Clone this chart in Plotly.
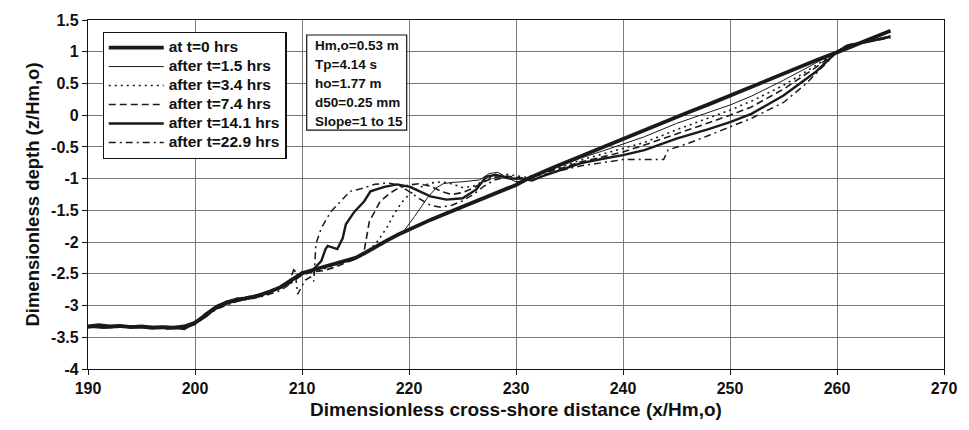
import plotly.graph_objects as go

# ---------------- data ----------------
x_t0 = [190, 191, 192, 193, 194, 195, 196, 197, 198, 199, 200, 200.5, 201, 201.5, 202, 203, 204, 205, 206, 207,
        208, 209, 210, 211, 212, 213, 214, 215, 216, 217, 218, 219, 220, 221, 222, 223, 224, 225, 226, 227,
        228, 229, 230, 231, 232, 233, 234, 236, 238, 240, 242, 244, 246, 248, 250, 252, 254, 256, 258, 260,
        262, 264, 265]
z_t0 = [-3.33, -3.31, -3.33, -3.32, -3.34, -3.33, -3.35, -3.34, -3.35, -3.33, -3.27, -3.22, -3.16, -3.09, -3.03,
        -2.95, -2.91, -2.88, -2.84, -2.78, -2.71, -2.60, -2.49, -2.44, -2.39, -2.34, -2.30, -2.25, -2.16, -2.06,
        -1.97, -1.88, -1.80, -1.72, -1.65, -1.58, -1.51, -1.44, -1.37, -1.30, -1.23, -1.17, -1.10, -1.01, -0.93,
        -0.86, -0.79, -0.65, -0.51, -0.37, -0.24, -0.10, 0.04, 0.17, 0.31, 0.45, 0.58, 0.72, 0.86, 0.99,
        1.13, 1.27, 1.33]

x_t15 = [190, 191.5, 193, 194.5, 196, 197.5, 199, 200, 201, 202, 203, 204, 205, 206, 207, 208, 209, 210, 211, 212,
         213, 214, 215, 216, 217, 218, 219, 219.5, 220.5, 221.7, 222.5, 223.2, 224, 225, 226.6, 227.5, 228.3, 229,
         230, 231, 232, 234, 236, 238, 240, 242, 245, 248, 250, 252, 255, 258, 260, 261, 262, 263, 265]
z_t15 = [-3.34, -3.32, -3.33, -3.35, -3.33, -3.36, -3.34, -3.28, -3.18, -3.02, -2.93, -2.90, -2.86, -2.85, -2.79,
         -2.72, -2.62, -2.50, -2.45, -2.38, -2.35, -2.30, -2.24, -2.17, -2.07, -1.98, -1.88, -1.83, -1.60, -1.31,
         -1.15, -1.08, -1.06, -1.05, -1.02, -0.92, -0.90, -0.97, -1.05, -1.02, -0.94, -0.81, -0.68, -0.57, -0.46,
         -0.34, -0.13, 0.04, 0.16, 0.30, 0.55, 0.82, 1.00, 1.10, 1.14, 1.18, 1.25]

x_t34 = [190, 191.5, 193, 194.5, 196, 197.5, 199, 200, 201, 202, 203, 204, 205, 206, 207, 208, 209, 210, 211, 212,
         213, 214, 215, 216, 217, 217.9, 218.6, 219.3, 220, 221, 222, 223, 224, 225, 226, 227, 228, 229, 230, 231,
         232, 234, 236, 238, 240, 242, 245, 248, 250, 252, 255, 258, 260, 261, 262, 263, 265]
z_t34 = [-3.32, -3.34, -3.31, -3.34, -3.36, -3.33, -3.35, -3.26, -3.15, -3.05, -2.96, -2.88, -2.87, -2.82, -2.77,
         -2.73, -2.58, -2.47, -2.48, -2.42, -2.36, -2.31, -2.26, -2.18, -2.00, -1.78, -1.56, -1.38, -1.25, -1.14,
         -1.07, -1.05, -1.08, -1.14, -1.12, -1.03, -0.95, -0.93, -0.96, -0.98, -0.92, -0.83, -0.71, -0.62, -0.53,
         -0.43, -0.23, -0.05, 0.08, 0.22, 0.47, 0.78, 1.00, 1.11, 1.13, 1.17, 1.24]

x_t74 = [190, 191.5, 193, 194.5, 196, 197.5, 199, 200, 201, 202, 203, 204, 205, 206, 207, 208, 209, 210, 211, 212,
         213, 214, 215, 215.8, 216.1, 216.3, 216.8, 217.3, 218.2, 219, 220, 221, 222, 223, 224, 225, 226, 227, 228,
         229, 230, 231, 232, 234, 236, 238, 240, 242, 245, 248, 250, 252, 255, 258, 260, 261, 262, 263, 265]
z_t74 = [-3.35, -3.33, -3.34, -3.32, -3.35, -3.37, -3.33, -3.29, -3.14, -3.04, -2.97, -2.92, -2.86, -2.86, -2.80,
         -2.72, -2.64, -2.52, -2.47, -2.45, -2.40, -2.33, -2.27, -2.15, -1.88, -1.67, -1.52, -1.36, -1.23, -1.15,
         -1.10, -1.08, -1.12, -1.20, -1.25, -1.22, -1.15, -1.05, -0.98, -0.96, -0.98, -1.00, -0.93, -0.85, -0.74,
         -0.66, -0.58, -0.47, -0.30, -0.12, 0.00, 0.13, 0.41, 0.75, 1.00, 1.10, 1.14, 1.17, 1.23]

x_t141 = [190, 191.5, 193, 194.5, 196, 197.5, 199, 200, 201, 202, 203, 204, 205, 206, 207, 208, 209, 210, 211,
          211.8, 212.2, 212.4, 213.3, 213.8, 214.1, 214.9, 215.8, 216.4, 217.7, 218.9, 220.1, 221, 222, 223.5,
          225, 226.3, 227.2, 228.1, 229.4, 230.6, 231.5, 232.5, 234, 236, 238, 240, 242, 245, 248, 250, 252, 255,
          258, 260, 261, 262, 263, 265]
z_t141 = [-3.33, -3.35, -3.33, -3.33, -3.34, -3.34, -3.37, -3.27, -3.13, -3.01, -2.94, -2.89, -2.89, -2.83, -2.79,
          -2.70, -2.61, -2.50, -2.44, -2.30, -2.11, -2.06, -2.11, -1.94, -1.72, -1.52, -1.36, -1.20, -1.13, -1.09,
          -1.13, -1.20, -1.28, -1.33, -1.31, -1.17, -0.97, -0.94, -1.00, -1.00, -1.03, -0.96, -0.87, -0.76, -0.69,
          -0.63, -0.55, -0.37, -0.22, -0.11, 0.02, 0.31, 0.68, 1.00, 1.10, 1.13, 1.16, 1.24]

x_t229 = [190, 191.5, 193, 194.5, 196, 197.5, 199, 200, 201, 202, 203, 204, 205, 206, 207, 208, 208.7, 209.3,
          209.6, 210.3, 210.8, 211.1, 211.3, 211.8, 212.7, 213.6, 214.5, 215.5, 216.8, 218, 219, 220, 221, 222,
          223, 224, 225, 226, 227, 228, 229, 230, 231, 232, 234, 236, 238, 240, 242, 243.8, 244.2, 246, 248, 250,
          252, 255, 257, 259, 260, 261, 262, 263, 265]
z_t229 = [-3.34, -3.33, -3.35, -3.33, -3.36, -3.35, -3.36, -3.30, -3.17, -3.06, -2.99, -2.93, -2.90, -2.87, -2.82,
          -2.76, -2.68, -2.40, -2.82, -2.60, -2.55, -2.62, -2.03, -1.78, -1.52, -1.36, -1.20, -1.16, -1.09, -1.07,
          -1.10, -1.20, -1.32, -1.42, -1.45, -1.42, -1.35, -1.25, -1.12, -1.02, -0.98, -1.00, -1.02, -0.96, -0.88,
          -0.80, -0.75, -0.70, -0.70, -0.70, -0.55, -0.45, -0.32, -0.19, -0.05, 0.20, 0.48, 0.82, 1.00, 1.10,
          1.12, 1.16, 1.22]

series_names = ["at t=0 hrs", "after t=1.5 hrs", "after t=3.4 hrs", "after t=7.4 hrs",
                "after t=14.1 hrs", "after t=22.9 hrs"]

x_ticks = [190, 200, 210, 220, 230, 240, 250, 260, 270]
y_ticks = [1.5, 1, 0.5, 0, -0.5, -1, -1.5, -2, -2.5, -3, -3.5, -4]
y_tick_text = ["1.5", "1", "0.5", "0", "-0.5", "-1", "-1.5", "-2", "-2.5", "-3", "-3.5", "-4"]

info_lines = ["Hm,o=0.53 m", "Tp=4.14 s", "ho=1.77 m", "d50=0.25 mm", "Slope=1 to 15"]

# ---------------- figure ----------------
FONT = "Liberation Sans, Arial, sans-serif"
xs = [x_t0, x_t15, x_t34, x_t74, x_t141, x_t229]
zs = [z_t0, z_t15, z_t34, z_t74, z_t141, z_t229]
styles = [
    dict(width=3.8, dash="solid", color="#1a1a1a"),
    dict(width=1.0, dash="solid", color="#1a1a1a"),
    dict(width=1.6, dash="2px,4px", color="#1a1a1a"),
    dict(width=1.6, dash="7px,4px", color="#1a1a1a"),
    dict(width=2.4, dash="solid", color="#1a1a1a"),
    dict(width=1.5, dash="7px,4px,2px,4px", color="#1a1a1a"),
]

fig = go.Figure()
for name, xv, zv, st in zip(series_names, xs, zs, styles):
    label = "<span style='font-size:15.5px'><b>" + name + "</b></span>"
    fig.add_trace(go.Scatter(x=xv, y=zv, mode="lines", name=label, line=st))

fig.update_layout(
    width=969, height=430,
    margin=dict(l=88, r=16, t=17, b=61),
    paper_bgcolor="white", plot_bgcolor="white",
    font=dict(family=FONT, color="#111"),
    showlegend=True,
    legend=dict(x=0.017, y=0.966, xanchor="left", yanchor="top",
                bgcolor="white", bordercolor="#111", borderwidth=1.2,
                font=dict(family=FONT, size=12, color="#111"),
                itemwidth=55, tracegroupgap=0),
)
fig.update_xaxes(range=[190, 270], tickvals=x_ticks, ticktext=[str(v) for v in x_ticks],
                 showgrid=True, gridcolor="#7a7a7a", gridwidth=1.2, zeroline=False,
                 showline=True, linecolor="#111", linewidth=1.2, mirror=True,
                 ticks="outside", ticklen=5, tickcolor="#111",
                 tickfont=dict(family=FONT, size=16, weight="bold", color="#111"),
                 title=dict(text="<b>Dimensionless cross-shore distance (x/Hm,o)</b>",
                            font=dict(family=FONT, size=19, color="#111"), standoff=6))
fig.update_yaxes(range=[-4, 1.5], tickvals=y_ticks, ticktext=y_tick_text,
                 showgrid=True, gridcolor="#7a7a7a", gridwidth=1.2, zeroline=False,
                 showline=True, linecolor="#111", linewidth=1.2, mirror=True,
                 ticks="outside", ticklen=5, tickcolor="#111",
                 tickfont=dict(family=FONT, size=16, weight="bold", color="#111"),
                 title=dict(text="<b>Dimensionless depth (z/Hm,o)</b>",
                            font=dict(family=FONT, size=18.5, color="#111"), standoff=6))

# info box
fig.add_shape(type="rect", xref="paper", yref="paper", x0=0.2555, x1=0.3723, y0=0.6847, y1=0.957,
              line=dict(color="#111", width=1.2), fillcolor="white", layer="above")
for i, t in enumerate(info_lines):
    fig.add_annotation(xref="paper", yref="paper", x=0.2625, y=0.926 - i * 0.054,
                       xanchor="left", yanchor="middle", showarrow=False,
                       text="<b>" + t + "</b>", font=dict(family=FONT, size=13.5, color="#111"))

fig.write_html("out.html")
